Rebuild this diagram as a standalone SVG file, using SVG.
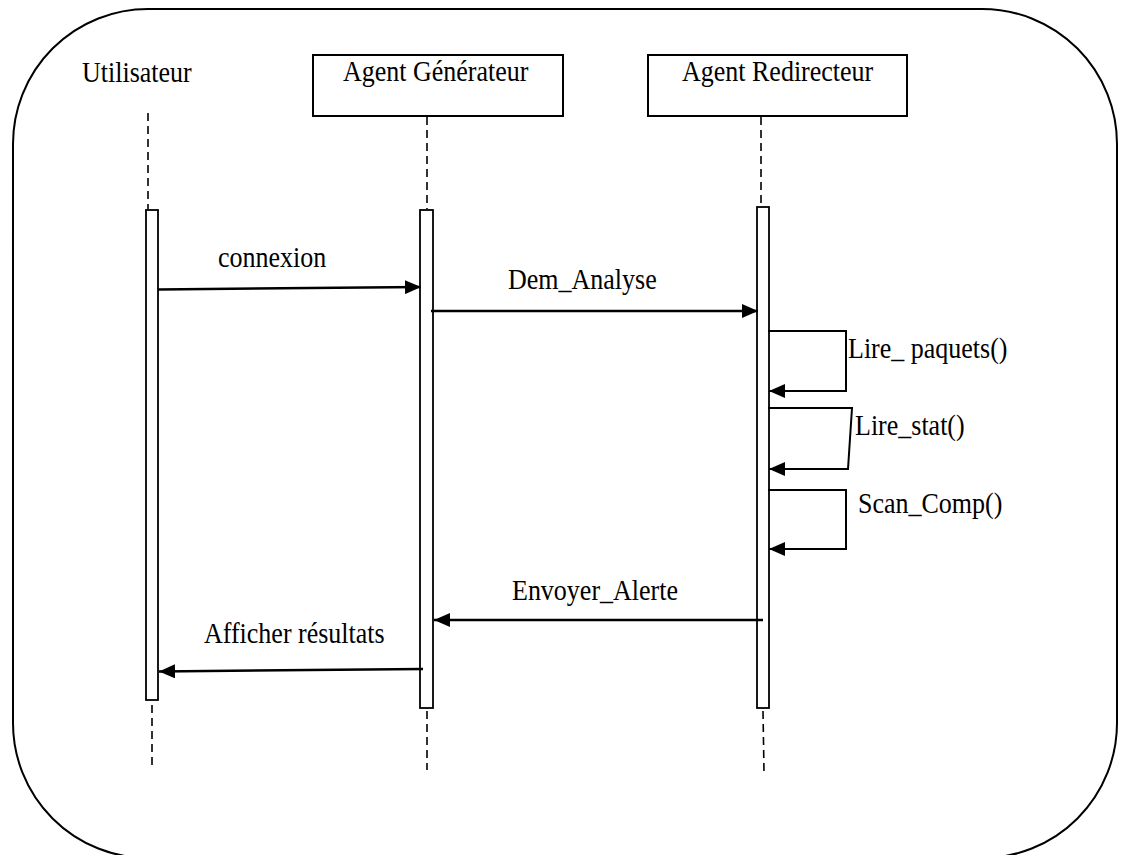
<svg xmlns="http://www.w3.org/2000/svg" width="1133" height="855" viewBox="0 0 1133 855">
  <style>
    text { font-family: "Liberation Serif", "Times New Roman", serif; font-size: 26px; fill: #000; }
    .frame { fill: none; stroke: #000; stroke-width: 2; }
    .box { fill: #fff; stroke: #000; stroke-width: 2; }
    .act { fill: #fff; stroke: #000; stroke-width: 1.8; }
    .life { fill: none; stroke: #000; stroke-width: 1.6; stroke-dasharray: 8 5; }
    .msg { fill: none; stroke: #000; stroke-width: 2.5; marker-end: url(#head); }
    .loop { fill: none; stroke: #000; stroke-width: 2; marker-end: url(#head); }
  </style>
  <defs>
    <marker id="head" viewBox="0 0 16 14" refX="16" refY="7" markerWidth="16" markerHeight="14" markerUnits="userSpaceOnUse" orient="auto">
      <path d="M0,0 L16,7 L0,14 z" fill="#000"/>
    </marker>
  </defs>

  <!-- outer frame -->
  <rect class="frame" x="13" y="9" width="1104" height="849" rx="135" ry="135"/>

  <!-- participants with lifelines and activation bars; labels are slightly tall-stretched -->
  <g id="utilisateur">
    <text transform="translate(82,82) scale(1,1.12)">Utilisateur</text>
    <line class="life" x1="148" y1="113" x2="148" y2="209"/>
    <rect class="act" x="146" y="210" width="12" height="490"/>
    <line class="life" x1="152" y1="705" x2="152" y2="770"/>
  </g>

  <g id="agent-generateur">
    <rect class="box" x="313" y="55" width="250" height="61"/>
    <text transform="translate(343,81) scale(1,1.12)">Agent Générateur</text>
    <line class="life" x1="427" y1="117" x2="427" y2="209"/>
    <rect class="act" x="420" y="210" width="13" height="498"/>
    <line class="life" x1="427" y1="711" x2="427" y2="770"/>
  </g>

  <g id="agent-redirecteur">
    <rect class="box" x="648" y="55" width="259" height="61"/>
    <text transform="translate(682,81) scale(1,1.12)">Agent Redirecteur</text>
    <line class="life" x1="761" y1="117" x2="761" y2="207"/>
    <rect class="act" x="757" y="207" width="12" height="501"/>
    <line class="life" x1="763" y1="711" x2="764" y2="772"/>
  </g>

  <!-- messages -->
  <g id="connectors">
    <path class="msg" d="M158,289.5 L421,287"/>
    <text transform="translate(218,267) scale(1,1.12)">connexion</text>

    <path class="msg" d="M431,311 L758,311"/>
    <text transform="translate(508,289) scale(1,1.12)">Dem_Analyse</text>

    <path class="loop" d="M768,331 L846,331 L846,391 L769,391"/>
    <text transform="translate(848,358) scale(1,1.12)">Lire_ paquets()</text>

    <path class="loop" d="M768,408 L852,408 L848,469 L769,469"/>
    <text transform="translate(855,435) scale(1,1.12)">Lire_stat()</text>

    <path class="loop" d="M768,490 L846,490 L846,549 L769,549"/>
    <text transform="translate(858,513) scale(1,1.12)">Scan_Comp()</text>

    <path class="msg" d="M763,620 L434,620"/>
    <text transform="translate(512,600) scale(1,1.12)">Envoyer_Alerte</text>

    <path class="msg" d="M423,669 L159,671.5"/>
    <text transform="translate(204,643) scale(1,1.12)">Afficher résultats</text>
  </g>
</svg>
